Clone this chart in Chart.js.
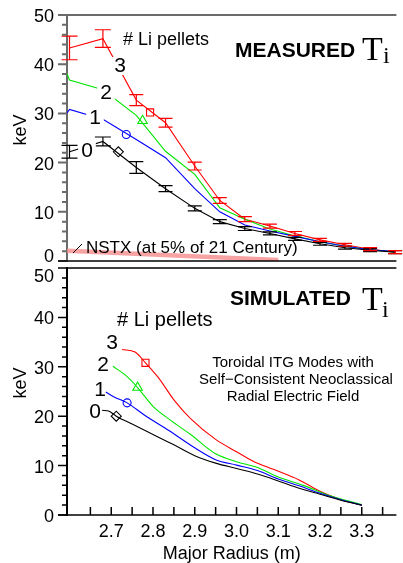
<!DOCTYPE html>
<html>
<head>
<meta charset="utf-8">
<script src="https://cdn.jsdelivr.net/npm/chart.js@4.4.0/dist/chart.umd.min.js"></script>
<style>
  html, body { margin: 0; padding: 0; background: #fff; }
  #wrap { position: relative; width: 403px; height: 563px; overflow: hidden; }
  .panel { position: absolute; left: 0; width: 403px; }
  #top { top: 0; height: 275px; z-index: 2; }
  #bottom { top: 250px; height: 313px; z-index: 1; }
</style>
</head>
<body>
<div id="wrap">
  <div class="panel" id="top"><canvas id="measuredChart"></canvas></div>
  <div class="panel" id="bottom"><canvas id="simulatedChart"></canvas></div>
</div>
<script>
// axis ranges + ticks
const xMin = 2.594, xMax = 3.383;
const yTicks = [0, 10, 20, 30, 40, 50];
const xTicks = [2.7, 2.8, 2.9, 3.0, 3.1, 3.2, 3.3];

// measured Ti (keV) vs major radius (m)
const measR = [2.60, 2.68, 2.76, 2.83, 2.90, 2.96, 3.02, 3.08, 3.14, 3.20, 3.26, 3.32, 3.38];
const meas0 = [22.2, 24.3, 19.0, 14.7, 10.7, 8.0, 6.6, 5.6, 4.5, 3.5, 2.7, 2.2, 1.8];
const meas0Err = [1.3, 0.9, 1.2, 0.6, 0.5, 0.4, 0.4, 0.3, 0.3, 0.3, 0.3, 0.3, 0.3];
const meas1 = [30.8, 28.8, 24.7, 21.0, 14.7, 10.0, 7.3, 6.1, 5.0, 3.9, 3.0, 2.3, 1.9];
const meas2 = [36.8, 34.8, 29.6, 22.3, 17.6, 10.8, 8.5, 6.5, 5.1, 3.9, 3.0, 2.3, 1.8];
const meas3 = [43.3, 45.2, 32.7, 28.1, 19.3, 12.3, 8.5, 7.1, 5.6, 4.3, 3.3, 2.4, 1.8];
const meas3Err = [2.4, 1.8, 1.1, 0.9, 0.8, 0.6, 0.5, 0.4, 0.4, 0.3, 0.3, 0.3, 0.3];
// lines 1 and 2 start right at the axis edge
const edgeR = 2.594;
const meas1Start = 30.1;
const meas2Start = 38.1;
// open markers on the measured curves
const measMarkR = [2.717, 2.736, 2.775, 2.793];
const measMarkT = [22.2, 25.7, 28.5, 30.2];
// NSTX reference
const nstxR = [2.594, 3.10];
const nstxT = [2.1, 0.2];

// simulated Ti
const sim0R = [2.678, 2.695, 2.712, 2.75, 2.80, 2.85, 2.90, 2.95, 3.00, 3.05, 3.10, 3.15, 3.20, 3.25, 3.30];
const sim0T = [21.2, 21.0, 20.0, 18.4, 16.3, 14.2, 12.0, 10.5, 9.4, 8.3, 6.9, 5.4, 4.2, 3.0, 2.0];
const sim1R = [2.687, 2.707, 2.738, 2.78, 2.84, 2.90, 2.95, 3.00, 3.05, 3.10, 3.15, 3.20, 3.25, 3.30];
const sim1T = [24.9, 23.9, 22.7, 20.2, 17.0, 13.6, 11.2, 10.1, 9.0, 7.3, 5.9, 4.4, 3.1, 2.0];
const sim2R = [2.704, 2.734, 2.763, 2.80, 2.84, 2.89, 2.95, 3.00, 3.05, 3.10, 3.16, 3.22, 3.30];
const sim2T = [30.1, 28.3, 25.8, 22.0, 19.3, 16.3, 12.4, 10.8, 9.6, 7.7, 6.0, 4.0, 2.1];
const sim3R = [2.726, 2.757, 2.782, 2.812, 2.851, 2.89, 2.95, 3.00, 3.04, 3.09, 3.15, 3.20, 3.25, 3.30];
const sim3T = [33.5, 33.0, 30.8, 27.9, 23.2, 19.5, 15.3, 12.8, 10.9, 9.2, 7.1, 4.8, 3.1, 2.0];
const simMarkR = [2.712, 2.738, 2.763, 2.782];
const simMarkT = [20.0, 22.7, 25.8, 30.8];

const colors = ['#000000', '#0000ff', '#00e600', '#ff0000'];
const markerStyles = ['rectRot', 'circle', 'triangle', 'rect'];
const markerSizes = [5, 4, 5.5, 5];

Chart.defaults.font.family = '"Liberation Sans", Arial, sans-serif';
Chart.defaults.color = '#000';

const pts = (xs, ys) => xs.map((x, i) => ({ x: x, y: ys[i] }));

const lineSet = (data, color, extra) => Object.assign({
  data: data,
  borderColor: color,
  borderWidth: 1.1,
  pointRadius: 0,
  fill: false,
  tension: 0
}, extra || {});

const markerSets = (rs, ts) => rs.map((r, i) => ({
  data: [{ x: r, y: ts[i] }],
  showLine: false,
  pointStyle: markerStyles[i],
  pointRadius: markerSizes[i],
  pointBackgroundColor: '#fff',
  pointBorderColor: colors[i],
  pointBorderWidth: 1.1
}));

// error bars drawn through the chart scales
const errorBars = {
  id: 'errorBars',
  afterDatasetsDraw(chart) {
    const { ctx, scales: { x, y } } = chart;
    ctx.save();
    chart.data.datasets.forEach(ds => {
      if (!ds.errors) return;
      ctx.strokeStyle = ds.borderColor;
      ctx.lineWidth = 1.2;
      ds.data.forEach((p, i) => {
        const e = ds.errors[i];
        const px = x.getPixelForValue(p.x);
        const hi = y.getPixelForValue(p.y + e);
        const lo = y.getPixelForValue(p.y - e);
        const cap = i < 2 ? 8 : 7;
        ctx.beginPath();
        ctx.moveTo(px, hi); ctx.lineTo(px, lo);
        ctx.moveTo(px - cap, hi); ctx.lineTo(px + cap, hi);
        ctx.moveTo(px - cap, lo); ctx.lineTo(px + cap, lo);
        ctx.stroke();
      });
    });
    ctx.restore();
  }
};

// tick marks, y labels and top frame line
const frame = {
  id: 'frame',
  afterDraw(chart, args, opts) {
    const { ctx, chartArea: a, scales: { x, y } } = chart;
    ctx.save();
    ctx.strokeStyle = opts.color;
    ctx.lineWidth = opts.width;
    ctx.beginPath();
    ctx.moveTo(a.left - 9, a.top);
    ctx.lineTo(a.right, a.top);
    for (let v = 0; v <= 50; v += 2) {
      const py = y.getPixelForValue(v);
      const len = v % 10 === 0 ? 9 : 5;
      ctx.moveTo(a.left - len, py);
      ctx.lineTo(a.left, py);
    }
    if (opts.xTicks) {
      for (let v = 2.65; v < xMax; v += 0.05) {
        const px = x.getPixelForValue(v);
        ctx.moveTo(px, a.bottom);
        ctx.lineTo(px, a.bottom - 8);
      }
    }
    ctx.stroke();
    ctx.lineWidth = 1.5;
    ctx.strokeStyle = '#000';
    ctx.beginPath();
    ctx.moveTo(a.left - 9, a.bottom);
    ctx.lineTo(a.right, a.bottom);
    ctx.stroke();

    // y tick labels, the edge ones nudged inside the panel
    ctx.font = '18px "Liberation Sans", Arial, sans-serif';
    ctx.fillStyle = '#000';
    ctx.textAlign = 'right';
    ctx.textBaseline = 'middle';
    yTicks.forEach(v => {
      const shift = (opts.labelShift && opts.labelShift[v]) || 2;
      ctx.fillText(String(v), a.left - 13, y.getPixelForValue(v) + shift);
    });
    ctx.restore();
  }
};

// free text on the panels
const notes = {
  id: 'notes',
  afterDraw(chart, args, opts) {
    const ctx = chart.ctx;
    ctx.save();
    (opts.items || []).forEach(n => {
      if (n.line) {
        ctx.strokeStyle = '#000';
        ctx.lineWidth = 1;
        ctx.beginPath();
        ctx.moveTo(n.line[0], n.line[1]);
        ctx.lineTo(n.line[2], n.line[3]);
        ctx.stroke();
        return;
      }
      ctx.save();
      ctx.font = n.font;
      ctx.textAlign = n.align || 'left';
      ctx.textBaseline = n.base || 'middle';
      ctx.translate(n.x, n.y);
      if (n.rot) ctx.rotate(n.rot);
      if (n.bg) {
        const w = ctx.measureText(n.text).width;
        ctx.fillStyle = '#fff';
        ctx.fillRect(-w / 2 - 3, -9, w + 6, 18);
      }
      ctx.fillStyle = '#000';
      ctx.fillText(n.text, 0, 0);
      ctx.restore();
    });
    ctx.restore();
  }
};

const noPad = s => { s.paddingTop = 0; s.paddingBottom = 0; s.paddingLeft = 0; s.paddingRight = 0; };

const yScale = (borderColor) => ({
  min: 0,
  max: 50,
  afterBuildTicks: s => { s.ticks = yTicks.map(v => ({ value: v })); },
  afterFit: s => { s.width = 67; noPad(s); },
  ticks: { display: false },
  grid: { display: false, drawTicks: false },
  border: { display: true, color: borderColor, width: 2 }
});

const digit = '21px "Liberation Sans", Arial, sans-serif';
const label17 = '18px "Liberation Sans", Arial, sans-serif';

new Chart(document.getElementById('measuredChart'), {
  type: 'line',
  data: {
    datasets: [
      lineSet(pts(nstxR, nstxT), 'rgba(246,140,140,0.8)', { borderWidth: 4.5 }),
      lineSet(pts(measR, meas0), colors[0], { errors: meas0Err }),
      lineSet([{ x: edgeR, y: meas1Start }].concat(pts(measR, meas1)), colors[1]),
      lineSet([{ x: edgeR, y: meas2Start }].concat(pts(measR, meas2)), colors[2]),
      lineSet(pts(measR, meas3), colors[3], { errors: meas3Err })
    ].concat(markerSets(measMarkR, measMarkT))
  },
  options: {
    responsive: true,
    maintainAspectRatio: false,
    animation: false,
    layout: { padding: { top: 15, right: 0, bottom: 14, left: 0 } },
    plugins: {
      legend: { display: false },
      tooltip: { enabled: false },
      frame: { color: '#6a6a6a', width: 2, xTicks: false, labelShift: { 0: -4 } },
      notes: {
        items: [
          { text: 'keV', x: 21, y: 130, rot: -Math.PI / 2, align: 'center', font: label17 },
          { text: '# Li pellets', x: 123, y: 40, font: '18px "Liberation Sans", Arial, sans-serif' },
          { text: '3', x: 120, y: 66, font: digit, align: 'center', bg: true },
          { text: '2', x: 106, y: 93, font: digit, align: 'center', bg: true },
          { text: '1', x: 95, y: 118, font: digit, align: 'center', bg: true },
          { text: '0', x: 87, y: 151, font: digit, align: 'center', bg: true },
          { text: 'MEASURED', x: 235, y: 57, base: 'alphabetic', font: 'bold 21px "Liberation Sans", Arial, sans-serif' },
          { text: 'T', x: 362, y: 60, base: 'alphabetic', font: '34px "Liberation Serif", serif' },
          { text: 'i', x: 383, y: 63, base: 'alphabetic', font: '24px "Liberation Serif", serif' },
          { line: [73, 253, 82, 244] },
          { text: 'NSTX (at 5% of 21 Century)', x: 86, y: 248, font: '17px "Liberation Sans", Arial, sans-serif' }
        ]
      }
    },
    scales: {
      x: {
        type: 'linear',
        min: xMin,
        max: xMax,
        afterFit: s => { s.height = 0; noPad(s); },
        ticks: { display: false },
        grid: { display: false, drawTicks: false },
        border: { display: false }
      },
      y: yScale('#6a6a6a')
    }
  },
  plugins: [errorBars, frame, notes]
});

new Chart(document.getElementById('simulatedChart'), {
  type: 'line',
  data: {
    datasets: [
      lineSet(pts(sim0R, sim0T), colors[0], { cubicInterpolationMode: 'monotone' }),
      lineSet(pts(sim1R, sim1T), colors[1], { cubicInterpolationMode: 'monotone' }),
      lineSet(pts(sim2R, sim2T), colors[2], { cubicInterpolationMode: 'monotone' }),
      lineSet(pts(sim3R, sim3T), colors[3], { cubicInterpolationMode: 'monotone' })
    ].concat(markerSets(simMarkR, simMarkT))
  },
  options: {
    responsive: true,
    maintainAspectRatio: false,
    animation: false,
    layout: { padding: { top: 18, right: 0, bottom: 0, left: 0 } },
    plugins: {
      legend: { display: false },
      tooltip: { enabled: false },
      frame: { color: '#000', width: 1.5, xTicks: true, labelShift: { 50: 9 } },
      notes: {
        items: [
          { text: 'keV', x: 21, y: 133, rot: -Math.PI / 2, align: 'center', font: label17 },
          { text: '# Li pellets', x: 117, y: 70, font: '20px "Liberation Sans", Arial, sans-serif' },
          { text: '3', x: 112, y: 93, font: digit, align: 'center' },
          { text: '2', x: 103, y: 115, font: digit, align: 'center' },
          { text: '1', x: 100, y: 140, font: digit, align: 'center' },
          { text: '0', x: 95, y: 162, font: digit, align: 'center' },
          { text: 'SIMULATED', x: 230, y: 55, base: 'alphabetic', font: 'bold 21px "Liberation Sans", Arial, sans-serif' },
          { text: 'T', x: 362, y: 60, base: 'alphabetic', font: '34px "Liberation Serif", serif' },
          { text: 'i', x: 382, y: 67, base: 'alphabetic', font: '24px "Liberation Serif", serif' },
          { text: 'Toroidal ITG Modes with', x: 293, y: 113, align: 'center', font: '15px "Liberation Sans", Arial, sans-serif' },
          { text: 'Self\u2212Consistent Neoclassical', x: 296, y: 130, align: 'center', font: '15px "Liberation Sans", Arial, sans-serif' },
          { text: 'Radial Electric Field', x: 293, y: 147, align: 'center', font: '15px "Liberation Sans", Arial, sans-serif' }
        ]
      }
    },
    scales: {
      x: {
        type: 'linear',
        min: xMin,
        max: xMax,
        afterBuildTicks: s => { s.ticks = xTicks.map(v => ({ value: v })); },
        afterFit: s => { s.height = 48; noPad(s); },
        ticks: { font: { size: 18 }, color: '#000', padding: 6, callback: v => v.toFixed(1) },
        grid: { display: false, drawTicks: false },
        border: { display: false },
        title: { display: true, text: 'Major Radius (m)', font: { size: 18 }, color: '#000', padding: { top: 0, bottom: -2 } }
      },
      y: yScale('#000')
    }
  },
  plugins: [errorBars, frame, notes]
});
</script>
</body>
</html>
